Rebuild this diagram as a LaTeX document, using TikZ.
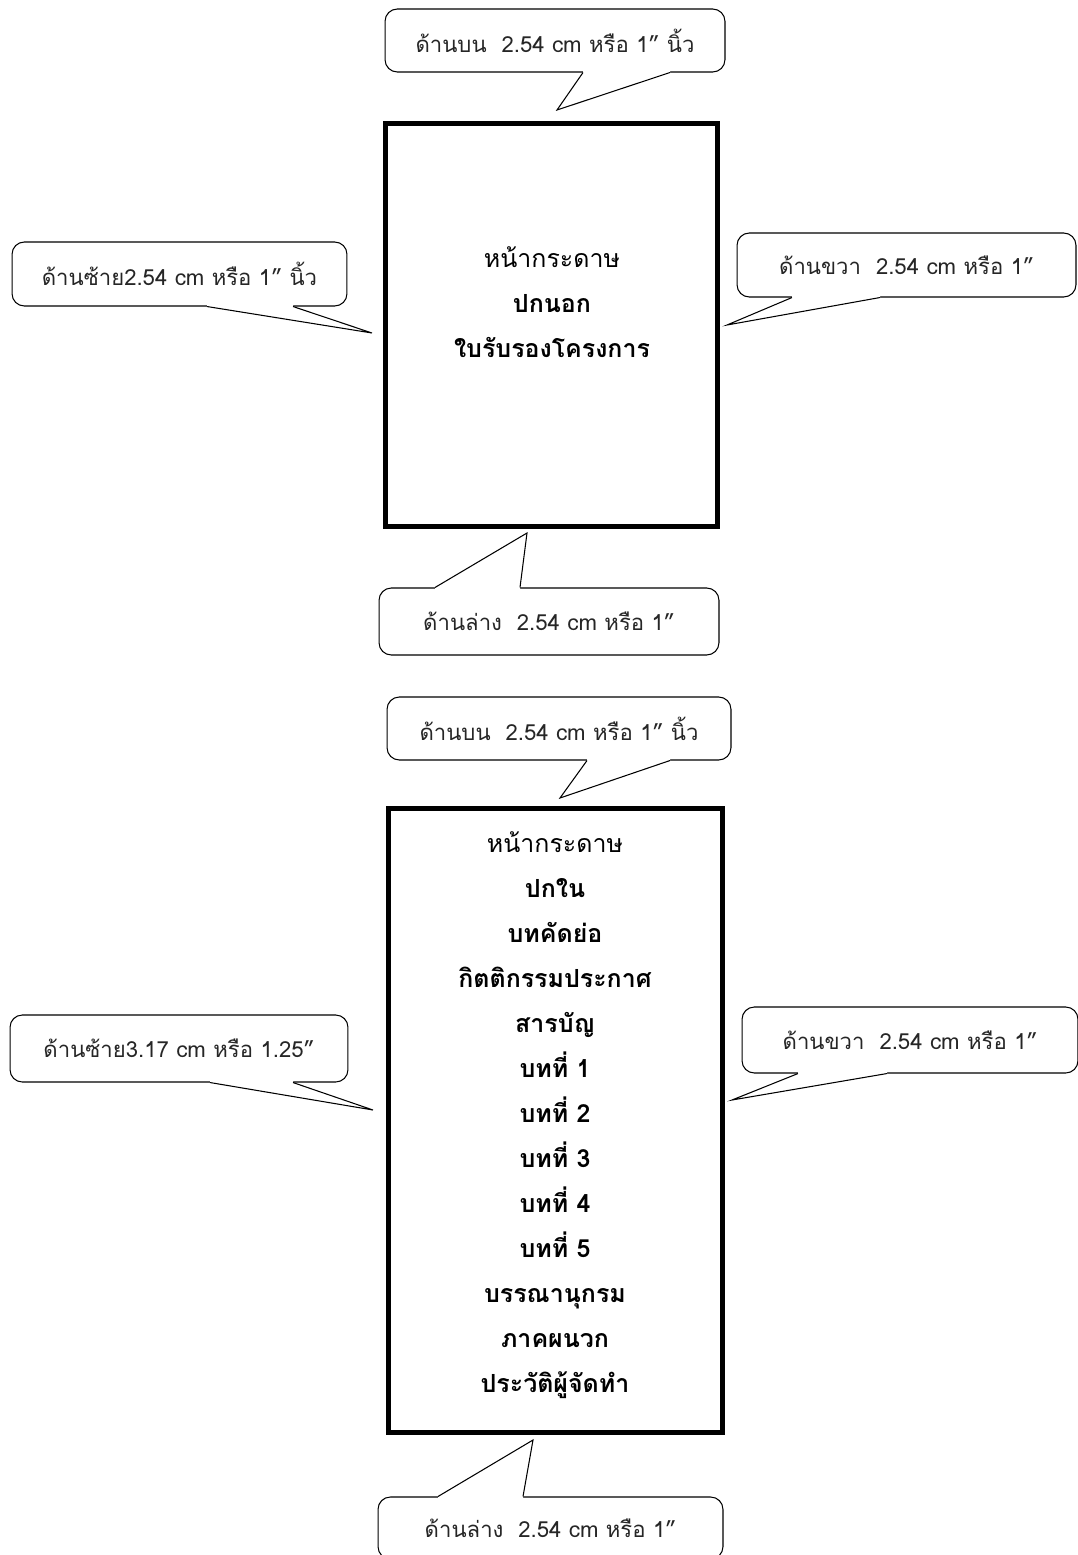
\documentclass[tikz,border=0pt]{standalone}
\usepackage{fontspec}
\setmainfont[Script=Thai]{Loma}
\usetikzlibrary{positioning,calc}

\tikzset{
  pagebox/.style={draw, line width=2.8pt},
  callout/.style={draw, line width=0.6pt, rounded corners=7pt, inner sep=0pt, text=black!85, font=\fontsize{12.6}{15}\selectfont},
  pointer/.style={line width=0.6pt, line join=miter},
  pagetext/.style={align=center, inner sep=0pt, font=\fontsize{14.2}{25.6}\selectfont},
}

\begin{document}
\begin{tikzpicture}[x=0.02cm, y=-0.02cm]
    \useasboundingbox (0,0) rectangle (1078,1555);

    % first page: cover and approval sheet
    \node[pagebox, minimum width=6.64cm, minimum height=8.06cm] (page1) at (551.5,325) {};
    \node[pagetext] (page1text) at (552,302) {หน้ากระดาษ\\ \textbf{ปกนอก}\\ \textbf{ใบรับรองโครงการ}};

    \node[callout, minimum width=6.8cm, minimum height=1.26cm] (top1) at (555,40.5) {ด้านบน\ \ 2.54 cm หรือ 1” นิ้ว};
    \node[callout, minimum width=6.7cm, minimum height=1.28cm] (left1) at (179.5,274) {ด้านซ้าย2.54 cm หรือ 1” นิ้ว};
    \node[callout, minimum width=6.78cm, minimum height=1.28cm] (right1) at (906.5,265) {ด้านขวา\ \ 2.54 cm หรือ 1”};
    \node[callout, minimum width=6.8cm, minimum height=1.34cm] (bottom1) at (549,621.5) {ด้านล่าง\ \ 2.54 cm หรือ 1”};

    \coordinate (top1tip) at (557,110);
    \coordinate (left1tip) at (372,333);
    \coordinate (right1tip) at (727,325);
    \coordinate (bottom1tip) at (527,533);

    \fill[white] ($(583,0 |- top1.south)+(0,-2)$) -- (583,0 |- top1.south) -- (top1tip) -- (670,0 |- top1.south) -- ($(670,0 |- top1.south)+(0,-2)$) -- cycle;
    \draw[pointer] (583,0 |- top1.south) -- (top1tip) -- (670,0 |- top1.south);
    \fill[white] ($(207,0 |- left1.south)+(0,-2)$) -- (207,0 |- left1.south) -- (left1tip) -- (293,0 |- left1.south) -- ($(293,0 |- left1.south)+(0,-2)$) -- cycle;
    \draw[pointer] (207,0 |- left1.south) -- (left1tip) -- (293,0 |- left1.south);
    \fill[white] ($(792,0 |- right1.south)+(0,-2)$) -- (792,0 |- right1.south) -- (right1tip) -- (880,0 |- right1.south) -- ($(880,0 |- right1.south)+(0,-2)$) -- cycle;
    \draw[pointer] (792,0 |- right1.south) -- (right1tip) -- (880,0 |- right1.south);
    \fill[white] ($(435,0 |- bottom1.north)+(0,2)$) -- (435,0 |- bottom1.north) -- (bottom1tip) -- (520,0 |- bottom1.north) -- ($(520,0 |- bottom1.north)+(0,2)$) -- cycle;
    \draw[pointer] (435,0 |- bottom1.north) -- (bottom1tip) -- (520,0 |- bottom1.north);

    % second page: inner pages
    \node[pagebox, minimum width=6.68cm, minimum height=12.48cm] (page2) at (555.5,1120.5) {};
    \node[pagetext] (page2text) at (555,1115) {หน้ากระดาษ\\ \textbf{ปกใน}\\ \textbf{บทคัดย่อ}\\ \textbf{กิตติกรรมประกาศ}\\ \textbf{สารบัญ}\\ \textbf{บทที่ 1}\\ \textbf{บทที่ 2}\\ \textbf{บทที่ 3}\\ \textbf{บทที่ 4}\\ \textbf{บทที่ 5}\\ \textbf{บรรณานุกรม}\\ \textbf{ภาคผนวก}\\ \textbf{ประวัติผู้จัดทำ}};

    \node[callout, minimum width=6.88cm, minimum height=1.26cm] (top2) at (559,728.5) {ด้านบน\ \ 2.54 cm หรือ 1” นิ้ว};
    \node[callout, minimum width=6.76cm, minimum height=1.34cm] (left2) at (179,1048.5) {ด้านซ้าย3.17 cm หรือ 1.25”};
    \node[callout, minimum width=6.72cm, minimum height=1.32cm] (right2) at (910,1040) {ด้านขวา\ \ 2.54 cm หรือ 1”};
    \node[callout, minimum width=6.9cm, minimum height=1.24cm] (bottom2) at (550.5,1528) {ด้านล่าง\ \ 2.54 cm หรือ 1”};

    \coordinate (top2tip) at (560,798);
    \coordinate (left2tip) at (373,1110);
    \coordinate (right2tip) at (732,1100);
    \coordinate (bottom2tip) at (533,1440);

    \fill[white] ($(587,0 |- top2.south)+(0,-2)$) -- (587,0 |- top2.south) -- (top2tip) -- (670,0 |- top2.south) -- ($(670,0 |- top2.south)+(0,-2)$) -- cycle;
    \draw[pointer] (587,0 |- top2.south) -- (top2tip) -- (670,0 |- top2.south);
    \fill[white] ($(210,0 |- left2.south)+(0,-2)$) -- (210,0 |- left2.south) -- (left2tip) -- (293,0 |- left2.south) -- ($(293,0 |- left2.south)+(0,-2)$) -- cycle;
    \draw[pointer] (210,0 |- left2.south) -- (left2tip) -- (293,0 |- left2.south);
    \fill[white] ($(798,0 |- right2.south)+(0,-2)$) -- (798,0 |- right2.south) -- (right2tip) -- (887,0 |- right2.south) -- ($(887,0 |- right2.south)+(0,-2)$) -- cycle;
    \draw[pointer] (798,0 |- right2.south) -- (right2tip) -- (887,0 |- right2.south);
    \fill[white] ($(438,0 |- bottom2.north)+(0,2)$) -- (438,0 |- bottom2.north) -- (bottom2tip) -- (523,0 |- bottom2.north) -- ($(523,0 |- bottom2.north)+(0,2)$) -- cycle;
    \draw[pointer] (438,0 |- bottom2.north) -- (bottom2tip) -- (523,0 |- bottom2.north);
\end{tikzpicture}
\end{document}
